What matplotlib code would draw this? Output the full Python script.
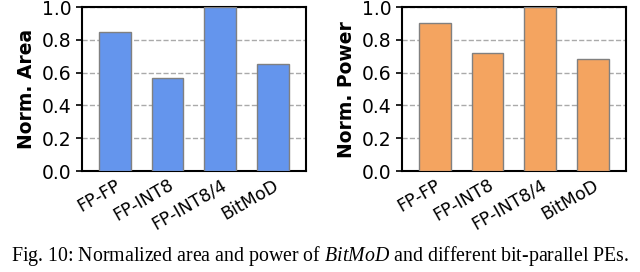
import numpy as np
import matplotlib
matplotlib.use("Agg")
from matplotlib import pyplot as plt
from matplotlib.transforms import ScaledTranslation

plt.rcParams["mathtext.fontset"] = "custom"
plt.rcParams["mathtext.rm"] = "Liberation Serif"
plt.rcParams["mathtext.it"] = "Liberation Serif:italic"

categories = ["FP-FP", "FP-INT8", "FP-INT8/4", "BitMoD"]
area = [0.85, 0.57, 1.0, 0.65]
power = [0.905, 0.72, 1.0, 0.685]
yticks = [0.0, 0.2, 0.4, 0.6, 0.8, 1.0]

fig = plt.figure(figsize=(6.4, 2.72), dpi=100)
ax1 = fig.add_axes([0.128, 0.371, 0.350, 0.603])
ax2 = fig.add_axes([0.628, 0.371, 0.350, 0.603])

x = np.arange(len(categories))
shift = ScaledTranslation(13 / 100, -4 / 100, fig.dpi_scale_trans)
for ax, vals, color, label in [
    (ax1, area, "#6495ED", "Norm. Area"),
    (ax2, power, "#F4A460", "Norm. Power"),
]:
    ax.bar(x, vals, width=0.6, color=color, edgecolor="#808080", linewidth=1.0, zorder=3)
    ax.set_xlim(-0.63, 3.63)
    ax.set_ylim(0, 1.0)
    ax.set_yticks(yticks)
    ax.set_yticklabels([f"{t:.1f}" for t in yticks], fontsize=13.5)
    ax.set_xticks(x)
    ax.set_xticklabels(categories, rotation=30, ha="right", rotation_mode="anchor", fontsize=12.5)
    for t in ax.get_xticklabels():
        t.set_transform(t.get_transform() + shift)
    ax.tick_params(axis="x", length=0)
    ax.tick_params(axis="y", length=4, width=1.2)
    ax.set_ylabel(label, fontsize=13.5, fontweight="bold", labelpad=4)
    ax.yaxis.grid(True, linestyle="--", color="#aaaaaa", linewidth=1.0, zorder=0)
    ax.set_axisbelow(True)
    for s in ax.spines.values():
        s.set_linewidth(1.5)

fig.text(0.5, 0.015,
         r"Fig. 10: Normalized area and power of $\it{BitMoD}$ and different bit-parallel PEs.",
         ha="center", va="bottom", fontsize=14.3, family="Liberation Serif")

fig.savefig("out.png", dpi=100)
